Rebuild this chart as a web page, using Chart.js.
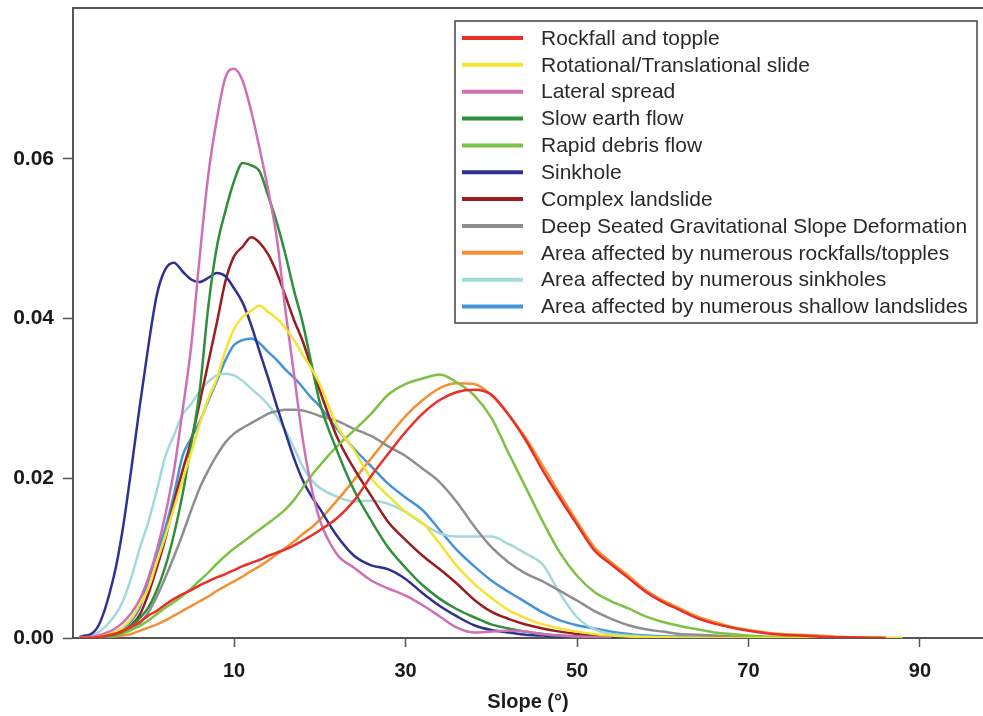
<!DOCTYPE html>
<html>
<head>
<meta charset="utf-8">
<script src="https://cdn.jsdelivr.net/npm/chart.js@4.4.1/dist/chart.umd.min.js"></script>
<style>
  html, body { margin: 0; padding: 0; background: #fff; }
  canvas { display: block; }
</style>
</head>
<body>
<canvas id="slopeChart" width="983" height="716"></canvas>
<script>
// Slope values (°) where the curves were read
const slope = [-8,-6,-4,-3,-2,-1,0,1,2,3,4,5,6,7,8,9,10,11,12,13,14,15,16,17,18,19,20,
  22,24,26,28,30,32,34,36,38,40,42,44,46,48,50,52,54,56,58,60,62,64,66,68,70,72,74,76,78,80,82,84,86,88,90];

// Tick labels
const xTicks = [10, 30, 50, 70, 90];
const yTicks = [0, 0.02, 0.04, 0.06];

// Density for each landslide type
const rockfall = [0,0.0001,0.0005,0.0009,0.0014,0.002,0.0028,0.0034,0.0042,0.0049,0.0055,0.006,0.0066,0.0071,0.0076,0.008,0.0085,0.009,0.0094,0.0098,0.0103,0.0107,0.0111,0.0116,0.0122,0.0128,0.0135,
  0.015,0.0172,0.0203,0.0231,0.0258,0.0281,0.0298,0.0308,0.0311,0.0305,0.028,0.0248,0.021,0.0175,0.0142,0.011,0.0092,0.0075,0.0058,0.0045,0.0035,0.0025,0.0018,0.0013,0.0009,0.0006,0.0004,0.0003,0.0002,0.0001,0.0001,0,0,null,null];
const rotational = [0,0.0001,0.0007,0.0013,0.0024,0.0042,0.0062,0.0095,0.0128,0.0163,0.0198,0.0232,0.0268,0.03,0.0325,0.036,0.0387,0.0402,0.041,0.0416,0.0408,0.04,0.0388,0.0373,0.0355,0.0338,0.0318,
  0.0266,0.0235,0.02,0.0178,0.0158,0.0144,0.0118,0.009,0.0068,0.005,0.0035,0.0025,0.0017,0.0012,0.0008,0.0005,0.0003,0.0002,0.0001,0.0001,0,0,0,0,0,0,0,0,0,0,0,0,0,0,null];
const lateral = [0,0.0003,0.0011,0.0019,0.0031,0.0048,0.0075,0.011,0.0155,0.021,0.0285,0.0365,0.0478,0.058,0.065,0.0702,0.0713,0.0698,0.066,0.0612,0.056,0.05,0.041,0.033,0.025,0.019,0.0148,
  0.0105,0.0088,0.0072,0.0062,0.0053,0.0041,0.0027,0.0013,0.0007,0.0008,0.0009,0.0008,0.0005,0.0003,0.0002,0.0001,0,null,null,null,null,null,null,null,null,null,null,null,null,null,null,null,null,null,null];
const slowFlow = [0,0.0001,0.0004,0.0008,0.0015,0.0025,0.0038,0.006,0.009,0.013,0.018,0.0242,0.031,0.0415,0.049,0.0535,0.0572,0.0595,0.0592,0.0584,0.0553,0.052,0.048,0.0435,0.0395,0.0345,0.0295,
  0.0235,0.0185,0.0147,0.0113,0.0088,0.0066,0.0049,0.0036,0.0026,0.0017,0.0012,0.0008,0.0005,0.0003,0.0002,0.0001,0,null,null,null,null,null,null,null,null,null,null,null,null,null,null,null,null,null,null];
const rapidFlow = [0,0.0001,0.0003,0.0006,0.001,0.0015,0.0022,0.003,0.0038,0.0045,0.0053,0.0062,0.0072,0.0082,0.0093,0.0103,0.0112,0.012,0.0128,0.0136,0.0144,0.0152,0.0161,0.0173,0.0188,0.0203,0.0216,
  0.024,0.026,0.0281,0.0305,0.0318,0.0325,0.033,0.032,0.0304,0.0276,0.0232,0.0189,0.0146,0.0107,0.0078,0.0058,0.0046,0.0037,0.0027,0.002,0.0015,0.0011,0.0007,0.0005,0.0003,0.0002,0.0001,0.0001,0,0,0,0,0,0,null];
const sinkhole = [0.0001,0.0012,0.0078,0.0135,0.021,0.029,0.0365,0.043,0.0462,0.047,0.0459,0.0449,0.0446,0.0451,0.0457,0.0453,0.0438,0.042,0.0392,0.0358,0.0325,0.029,0.0257,0.0225,0.0198,0.0178,0.0162,
  0.0128,0.0103,0.0091,0.0086,0.0074,0.0056,0.004,0.0027,0.0016,0.001,0.0007,0.0004,0.0003,0.0002,0.0002,0.0001,0.0001,0,0,null,null,null,null,null,null,null,null,null,null,null,null,null,null,null,null];
const complexSlide = [0,0.0001,0.0004,0.0008,0.0016,0.0029,0.0055,0.0088,0.0125,0.017,0.021,0.0247,0.0295,0.0345,0.0395,0.0447,0.0478,0.049,0.0502,0.0495,0.048,0.0457,0.0428,0.0398,0.0372,0.034,0.031,
  0.0252,0.0212,0.0178,0.0145,0.0123,0.0103,0.0086,0.0068,0.0048,0.0033,0.0024,0.0017,0.0012,0.0008,0.0005,0.0003,0.0002,0.0001,0.0001,0,0,0,0,0,0,0,0,0,0,0,0,0,0,null,null];
const deepSeated = [0,0.0001,0.0003,0.0006,0.0011,0.0018,0.0032,0.0052,0.0076,0.0102,0.013,0.016,0.0188,0.021,0.0229,0.0245,0.0256,0.0263,0.0269,0.0275,0.0281,0.0284,0.0286,0.0286,0.0285,0.0282,0.0278,
  0.0272,0.0262,0.0253,0.024,0.0228,0.0212,0.0195,0.017,0.014,0.0114,0.0095,0.0081,0.0071,0.0059,0.0047,0.0034,0.0024,0.0016,0.0011,0.0008,0.0005,0.0004,0.0003,0.0002,0.0001,0.0001,0.0001,0,null,null,null,null,null,null,null];
const rockfallArea = [0,0.0001,0.0002,0.0003,0.0005,0.0009,0.0013,0.0017,0.0022,0.0028,0.0034,0.004,0.0046,0.0052,0.0059,0.0065,0.0071,0.0077,0.0084,0.009,0.0097,0.0105,0.0113,0.0121,0.013,0.0138,0.0148,
  0.0172,0.0198,0.0225,0.0252,0.0278,0.0298,0.0313,0.0319,0.0318,0.0304,0.028,0.0251,0.0216,0.018,0.0146,0.0114,0.0095,0.0078,0.006,0.0047,0.0037,0.0027,0.002,0.0014,0.001,0.0007,0.0005,0.0004,0.0003,0.0002,0.0001,0.0001,0,null,null];
const sinkholeArea = [0.0002,0.0006,0.0027,0.0045,0.0075,0.0112,0.0145,0.0185,0.0228,0.0254,0.028,0.0293,0.0309,0.0321,0.0329,0.0331,0.0329,0.0322,0.0312,0.0303,0.0292,0.0277,0.026,0.0238,0.0215,0.0198,0.0188,
  0.0177,0.0171,0.0172,0.0168,0.0158,0.0143,0.0131,0.0127,0.0127,0.0127,0.0118,0.0106,0.0092,0.0056,0.0026,0.0011,0.0005,0.0003,0.0002,0.0001,0.0001,0.0001,0,0,0,0,0,null,null,null,null,null,null,null,null];
const shallowArea = [0,0.0002,0.0007,0.0012,0.0021,0.0038,0.0072,0.0105,0.0138,0.018,0.0228,0.025,0.0271,0.0297,0.0322,0.0348,0.0367,0.0373,0.0375,0.0369,0.0358,0.0348,0.0336,0.0326,0.0314,0.0301,0.029,
  0.0262,0.0237,0.0215,0.0193,0.0176,0.016,0.0135,0.011,0.009,0.0072,0.0058,0.0045,0.0032,0.0022,0.0016,0.0012,0.0008,0.0005,0.0003,0.0002,0.0002,0.0001,0.0001,0.0001,0.0001,0.0001,0.0001,0,null,null,null,null,null,null,null];

const names = [
  "Rockfall and topple",
  "Rotational/Translational slide",
  "Lateral spread",
  "Slow earth flow",
  "Rapid debris flow",
  "Sinkhole",
  "Complex landslide",
  "Deep Seated Gravitational Slope Deformation",
  "Area affected by numerous rockfalls/topples",
  "Area affected by numerous sinkholes",
  "Area affected by numerous shallow landslides"
];
const series = [rockfall, rotational, lateral, slowFlow, rapidFlow, sinkhole, complexSlide, deepSeated, rockfallArea, sinkholeArea, shallowArea];
const colors = ["#e8302a", "#f4e332", "#cf6fb6", "#2f8f3a", "#7cc245", "#2f3192", "#9a1d20", "#8e8e8e", "#f39034", "#a2dad8", "#4593d8"];

Chart.defaults.font.family = '"Liberation Sans", Arial, sans-serif';

// Legend drawn as a framed box inside the plot
const legendBox = {
  id: "legendBox",
  afterDraw(chart) {
    const ctx = chart.ctx;
    ctx.save();
    ctx.fillStyle = "#fff";
    ctx.fillRect(455, 21, 522, 302);
    ctx.strokeStyle = "#444";
    ctx.lineWidth = 1.5;
    ctx.strokeRect(455, 21, 522, 302);
    ctx.font = '21px "Liberation Sans", Arial, sans-serif';
    ctx.textBaseline = "middle";
    chart.data.datasets.forEach((ds, i) => {
      const y = 38 + i * 26.85;
      ctx.strokeStyle = ds.borderColor;
      ctx.lineWidth = 4;
      ctx.beginPath();
      ctx.moveTo(462, y);
      ctx.lineTo(523, y);
      ctx.stroke();
      ctx.fillStyle = "#2a2a2a";
      ctx.fillText(ds.label, 541, y + 1);
    });
    ctx.restore();
  }
};

const axisColor = "#555";
const ctx = document.getElementById("slopeChart").getContext("2d");
new Chart(ctx, {
  type: "line",
  data: {
    datasets: series.map((vals, i) => ({
      label: names[i],
      data: slope.map((s, j) => ({ x: s, y: vals[j] })),
      borderColor: colors[i],
      borderWidth: 2.5,
      pointRadius: 0,
      fill: false,
      cubicInterpolationMode: "monotone"
    }))
  },
  options: {
    responsive: false,
    animation: false,
    events: [],
    layout: { padding: 0 },
    plugins: { legend: { display: false }, tooltip: { enabled: false } },
    scales: {
      x: {
        type: "linear",
        min: -8.78,
        max: 97.35,
        afterFit: s => { s.height = 78; s.paddingLeft = 0; s.paddingRight = 0; },
        afterBuildTicks: s => { s.ticks = xTicks.map(v => ({ value: v })); },
        grid: { drawOnChartArea: false, drawTicks: true, tickLength: 9, tickWidth: 1.5, tickColor: axisColor },
        border: { display: true, color: axisColor, width: 2 },
        ticks: { font: { size: 20, weight: "bold" }, color: "#1a1a1a", padding: 12, maxRotation: 0, callback: v => v },
        title: { display: true, text: "Slope (°)", font: { size: 20, weight: "bold" }, color: "#1a1a1a", padding: { top: 0, bottom: 2 } }
      },
      x2: {
        type: "linear",
        position: "top",
        min: -8.78,
        max: 97.35,
        afterFit: s => { s.height = 8; s.paddingLeft = 0; s.paddingRight = 0; },
        ticks: { display: false },
        grid: { display: false },
        border: { display: true, color: axisColor, width: 2 }
      },
      y: {
        min: 0,
        max: 0.0789,
        afterFit: s => { s.width = 73; s.paddingTop = 0; s.paddingBottom = 0; },
        afterBuildTicks: s => { s.ticks = yTicks.map(v => ({ value: v })); },
        grid: { drawOnChartArea: false, drawTicks: true, tickLength: 10, tickWidth: 1.5, tickColor: axisColor },
        border: { display: true, color: axisColor, width: 2 },
        ticks: { font: { size: 21, weight: "bold" }, color: "#1a1a1a", padding: 9, callback: v => v.toFixed(2) }
      }
    }
  },
  plugins: [legendBox]
});
</script>
</body>
</html>
